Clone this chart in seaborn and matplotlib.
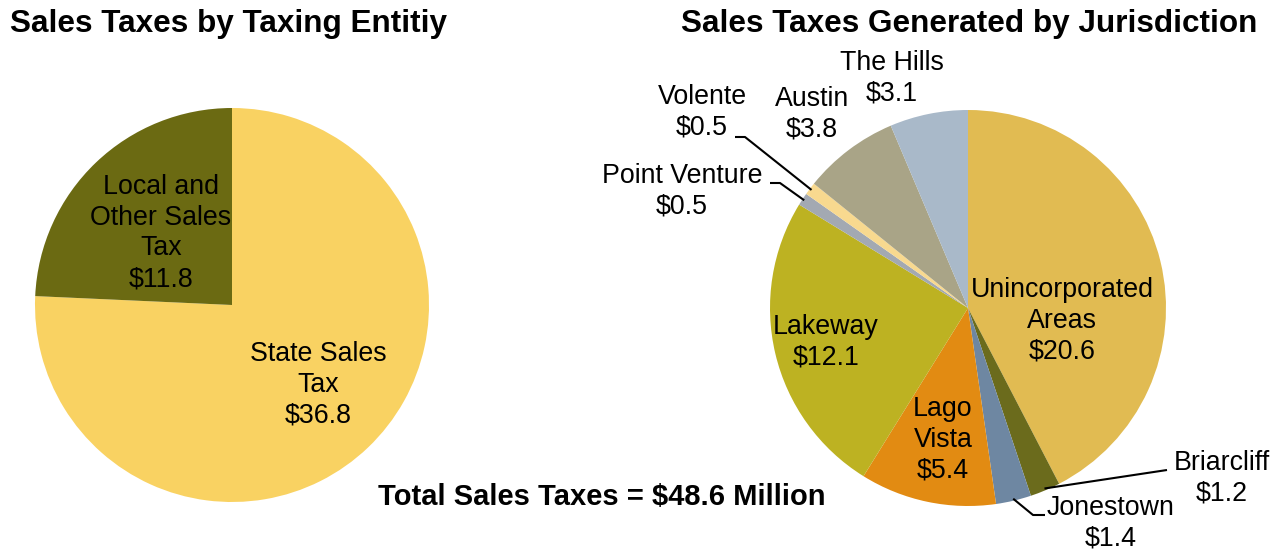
import matplotlib
matplotlib.use("Agg")
import matplotlib.pyplot as plt
import seaborn as sns
import numpy as np

# ---- data ----
left_names = ["State Sales\nTax", "Local and\nOther Sales\nTax"]
left_values = [36.8, 11.8]
right_names = ["Unincorporated\nAreas", "Briarcliff", "Jonestown", "Lago\nVista", "Lakeway",
               "Point Venture", "Volente", "Austin", "The Hills"]
right_values = [20.6, 1.2, 1.4, 5.4, 12.1, 0.5, 0.5, 3.8, 3.1]
total_value = 48.6

left_colors = ["#F9D262", "#6B6A12"]
right_colors = ["#E1BB52", "#6B6B1C", "#6E87A2", "#E28B12", "#BDB222",
                "#A3A9B2", "#F8D98F", "#A9A487", "#A9B9C9"]

sns.set_theme(style="white")
plt.rcParams['font.family'] = ['Liberation Sans', 'DejaVu Sans']

W, H = 1272, 553
fig = plt.figure(figsize=(W / 100, H / 100), dpi=100)
ax = fig.add_axes([0, 0, 1, 1])

def Y(py):
    return H - py

LC = (232, 305); LR = 197
RC = (968, 308); RR = 198

ax.pie(left_values, colors=left_colors, startangle=90, counterclock=False,
       center=(LC[0], Y(LC[1])), radius=LR, wedgeprops=dict(linewidth=0))
rw, _ = ax.pie(right_values, colors=right_colors, startangle=90, counterclock=False,
               center=(RC[0], Y(RC[1])), radius=RR, wedgeprops=dict(linewidth=0))

ax.set_xlim(0, W)
ax.set_ylim(0, H)
ax.set_aspect('equal')
ax.axis('off')

lab_fs = 19.3
def lab(x, py, s, ha='center'):
    ax.text(x, Y(py), s, ha=ha, va='center', fontsize=lab_fs, color='black', linespacing=1.24)

# left labels
lab(161, 233, f"{left_names[1]}\n${left_values[1]}")
lab(318, 385, f"{left_names[0]}\n${left_values[0]}")

# right labels
pos = {
    "Unincorporated\nAreas": (1062, 321),
    "Lakeway": (826, 342),
    "Lago\nVista": (943, 440),
    "Briarcliff": (1222, 478),
    "Jonestown": (1111, 523),
    "Point Venture": (682, 191),
    "Volente": (702, 112),
    "Austin": (812, 114),
    "The Hills": (892, 78),
}
for n, v in zip(right_names, right_values):
    x, py = pos[n]
    lab(x, py, f"{n}\n${v}")

# leader lines: point on wedge edge computed from wedge angles
def edge_pt(w, frac=0.5, r=1.0):
    a = np.deg2rad(w.theta1 + (w.theta2 - w.theta1) * frac)
    cx, cy = w.center
    return cx + w.r * r * np.cos(a), cy + w.r * r * np.sin(a)

idx = {n: i for i, n in enumerate(right_names)}
leaders = {
    "Briarcliff": [(1167, Y(470))],
    "Jonestown": [(1045, Y(515)), (1033, Y(515))],
    "Point Venture": [(770, Y(183)), (780, Y(183))],
    "Volente": [(735, Y(137)), (745, Y(137))],
}
for n, pts in leaders.items():
    ex, ey = edge_pt(rw[idx[n]], 0.5, 0.99)
    xs = [p[0] for p in pts] + [ex]
    ys = [p[1] for p in pts] + [ey]
    ax.plot(xs, ys, color='black', lw=1.5, solid_capstyle='butt')

# titles
ax.text(10, Y(24), "Sales Taxes by Taxing Entitiy", ha='left', va='center',
        fontsize=22.7, fontweight='bold', color='black')
ax.text(969, Y(24), "Sales Taxes Generated by Jurisdiction", ha='center', va='center',
        fontsize=22.7, fontweight='bold', color='black')
ax.text(602, Y(497), f"Total Sales Taxes = ${total_value} Million", ha='center', va='center',
        fontsize=21, fontweight='bold', color='black')

fig.savefig("out.png", dpi=100, facecolor='white')
